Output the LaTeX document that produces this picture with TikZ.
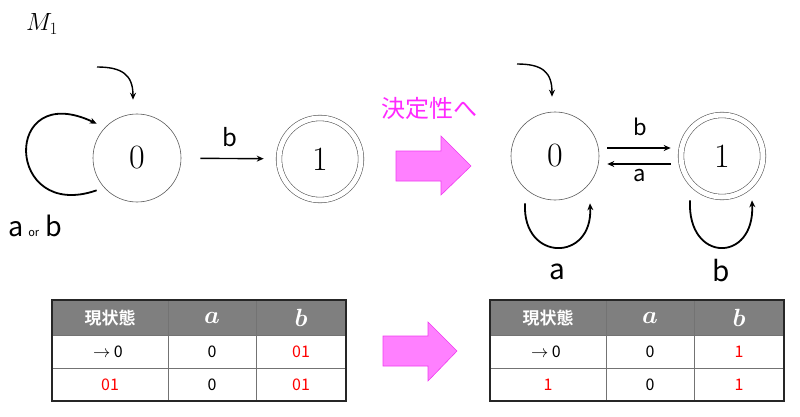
\documentclass[tikz,border=0pt]{standalone}
\usepackage{amsmath}
\usepackage{fontspec}
\newfontfamily\jpfont{Noto Sans CJK JP}[BoldFont={Noto Sans CJK JP Bold}]
\usetikzlibrary{arrows.meta}

\definecolor{pinkfill}{RGB}{255,128,255}
\definecolor{pinkline}{RGB}{240,60,240}
\definecolor{pinktext}{RGB}{255,40,255}
\definecolor{headgray}{RGB}{127,127,127}

\tikzset{
    state/.style={circle, draw=black!65, line width=0.6pt, minimum size=88pt, inner sep=0pt, font=\fontsize{34}{36}\selectfont},
    accepting/.style={minimum size=82pt, double, double distance=5pt},
    edge/.style={line width=1.4pt, -{Stealth[length=7pt,width=6pt]}},
    loopedge/.style={line width=1.8pt, -{Stealth[length=7pt,width=6pt]}},
    lbl/.style={inner sep=0pt, font=\jpfont\fontsize{22}{24}\selectfont},
    pinkarrow/.style={fill=pinkfill, draw=pinkline, line width=0.6pt},
    cell/.style={inner sep=0pt, font=\jpfont\fontsize{16}{18}\selectfont},
    headcell/.style={inner sep=0pt, text=white, font=\jpfont\bfseries\fontsize{17}{19}\selectfont},
    headmath/.style={inner sep=0pt, text=white, font=\fontsize{23}{25}\selectfont},
    gridline/.style={draw=black!55, line width=0.8pt},
    tableframe/.style={draw=black!85, line width=1.8pt}
}

\begin{document}
\begin{tikzpicture}[x=1pt, y=-1pt]
    \useasboundingbox (0,0) rectangle (800,417);

    \node[font=\fontsize{25}{27}\selectfont, inner sep=0pt] (m1) at (42,24) {$M_1$};

    \node[state] (s0) at (137,158) {0};
    \node[state, accepting] (s1) at (320,159) {1};
    \coordinate (init0) at (97,67);
    \draw[edge] (init0) .. controls +(25,0) and +(0,-25) .. ([xshift=-4pt,yshift=14pt]s0.north);
    \draw[loopedge] ([shift={(-9,1)}]s0.225) .. controls +(-92,32) and +(-95,-45) .. ([shift={(-9,-3)}]s0.135);
    \node[lbl, font=\jpfont\fontsize{27}{29}\selectfont] (ab) at (35,226) {a\hspace{5pt}{\fontsize{11}{12}\selectfont or}\hspace{6pt}b};
    \draw[edge, shorten <=19pt, shorten >=15pt] (s0) -- (s1) node[lbl, font=\jpfont\fontsize{24}{26}\selectfont, midway, above=11pt] (lb0) {b};

    \node[font=\jpfont\fontsize{24}{26}\selectfont, text=pinktext, inner sep=0pt] (det) at (429,108) {決定性へ};
    \draw[pinkarrow] (396,151) -- (441,151) -- (441,136) -- (471,166) -- (441,195) -- (441,181) -- (396,181) -- cycle;

    \node[state] (r0) at (555,156) {0};
    \node[state, accepting] (r1) at (722,156) {1};
    \coordinate (init1) at (517,64);
    \draw[edge] (init1) .. controls +(25,0) and +(0,-25) .. ([xshift=-3pt,yshift=15pt]r0.north);
    \draw[edge, transform canvas={yshift=8pt}, shorten <=8pt, shorten >=10pt] (r0) -- (r1) node[lbl, midway, above=12pt] (lb1) {b};
    \draw[edge, transform canvas={yshift=-8pt}, shorten <=10pt, shorten >=8pt] (r1) -- (r0) node[lbl, midway, below=5pt] (la1) {a};
    \draw[loopedge] ([shift={(-30,3)}]r0.south) .. controls +(-3,59) and +(3,59) .. ([shift={(35,3)}]r0.south) node[lbl, font=\jpfont\fontsize{28}{30}\selectfont, midway, below=15pt] (la0) {a};
    \draw[loopedge] ([shift={(-32,3)}]r1.south) .. controls +(-3,63) and +(3,63) .. ([shift={(30,3)}]r1.south) node[lbl, font=\jpfont\fontsize{28}{30}\selectfont, midway, below=11pt] (lb2) {b};

    \draw[pinkarrow] (383,336) -- (428,336) -- (428,322) -- (457,351) -- (428,381) -- (428,366) -- (383,366) -- cycle;

    \fill[headgray] (52,300) rectangle (346,335);
    \draw[gridline] (52,335) -- (346,335);
    \draw[gridline] (52,368) -- (346,368);
    \draw[gridline] (168,300) -- (168,401);
    \draw[gridline] (256,300) -- (256,401);
    \draw[tableframe] (52,300) rectangle (346,401);
    \node[headcell] (tl-h0) at (110,318) {現状態};
    \node[headmath] (tl-h1) at (212,318) {$\boldsymbol{a}$};
    \node[headmath] (tl-h2) at (301,318) {$\boldsymbol{b}$};
    \node[cell] (tl-a0) at (108,352) {$\rightarrow$ 0};
    \node[cell] (tl-a1) at (212,352) {0};
    \node[cell, text=red] (tl-a2) at (301,352) {01};
    \node[cell, text=red] (tl-b0) at (110,385) {01};
    \node[cell] (tl-b1) at (212,385) {0};
    \node[cell, text=red] (tl-b2) at (301,385) {01};

    \fill[headgray] (490,300) rectangle (784,335);
    \draw[gridline] (490,335) -- (784,335);
    \draw[gridline] (490,368) -- (784,368);
    \draw[gridline] (606,300) -- (606,401);
    \draw[gridline] (694,300) -- (694,401);
    \draw[tableframe] (490,300) rectangle (784,401);
    \node[headcell] (tr-h0) at (548,318) {現状態};
    \node[headmath] (tr-h1) at (650,318) {$\boldsymbol{a}$};
    \node[headmath] (tr-h2) at (739,318) {$\boldsymbol{b}$};
    \node[cell] (tr-a0) at (546,352) {$\rightarrow$ 0};
    \node[cell] (tr-a1) at (650,352) {0};
    \node[cell, text=red] (tr-a2) at (739,352) {1};
    \node[cell, text=red] (tr-b0) at (548,385) {1};
    \node[cell] (tr-b1) at (650,385) {0};
    \node[cell, text=red] (tr-b2) at (739,385) {1};
\end{tikzpicture}
\end{document}
